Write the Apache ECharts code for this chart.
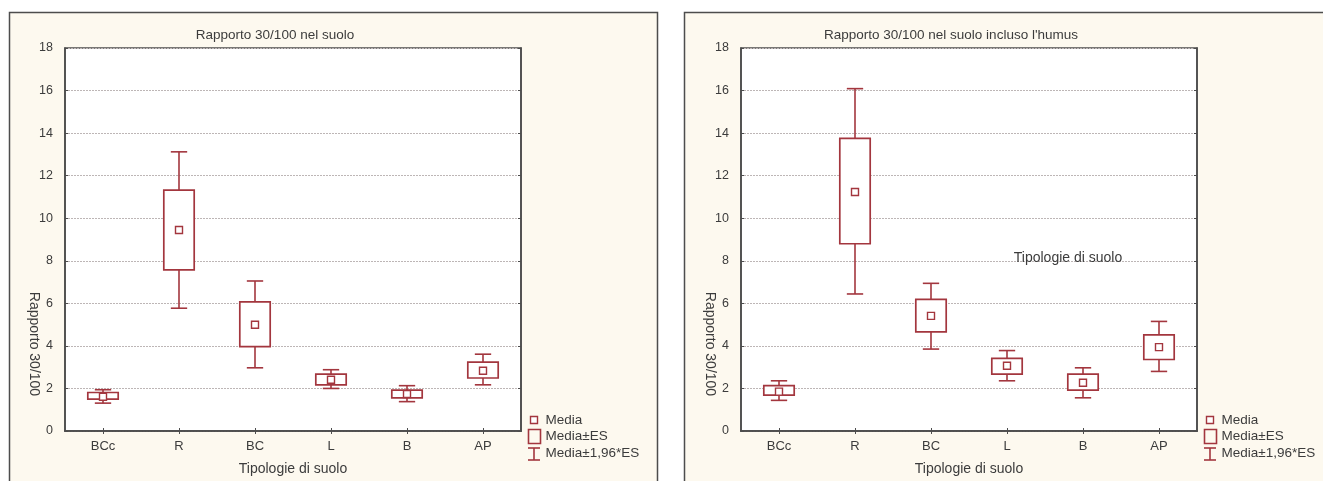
<!DOCTYPE html>
<html>
<head>
<meta charset="utf-8">
<script src="https://cdn.jsdelivr.net/npm/echarts@6/dist/echarts.min.js"></script>
<style>html,body{margin:0;padding:0;background:#fff;}#c{width:1323px;height:481px;}</style>
</head>
<body>
<div id="c"></div>
<script>
// ---- data ----
const categories = ['BCc', 'R', 'BC', 'L', 'B', 'AP'];
const yTickValues = [0, 2, 4, 6, 8, 10, 12, 14, 16, 18];

// Left: "Rapporto 30/100 nel suolo"
const mean1   = [1.61, 9.45, 4.99, 2.41, 1.74, 2.83];
const esLow1  = [1.50, 7.57, 3.97, 2.17, 1.56, 2.49];
const esHigh1 = [1.81, 11.32, 6.07, 2.67, 1.92, 3.24];
const ciLow1  = [1.31, 5.77, 2.97, 2.00, 1.38, 2.17];
const ciHigh1 = [1.94, 13.12, 7.05, 2.88, 2.13, 3.61];

// Right: "Rapporto 30/100 nel suolo incluso l'humus"
const mean2   = [1.85, 11.23, 5.41, 3.07, 2.27, 3.94];
const esLow2  = [1.69, 8.80, 4.66, 2.67, 1.92, 3.36];
const esHigh2 = [2.13, 13.75, 6.19, 3.41, 2.67, 4.52];
const ciLow2  = [1.44, 6.44, 3.85, 2.36, 1.56, 2.80];
const ciHigh2 = [2.36, 16.09, 6.94, 3.78, 2.97, 5.15];

const titles = ['Rapporto 30/100 nel suolo', "Rapporto 30/100 nel suolo incluso l'humus"];
const xName = 'Tipologie di suolo';
const yName = 'Rapporto 30/100';
const legendNames = ['Media', 'Media±ES', 'Media±1,96*ES'];

// ---- style ----
const RED = '#A3363E';
const TXT = '#3c3c3c';
const FONT = '"Liberation Sans", Arial, sans-serif';
const BG = '#FDF9EF';
const FRAME = '#4d4d4d';

const chart = echarts.init(document.getElementById('c'), null, {renderer: 'canvas'});

const gridLefts = [65, 741];
const offsets = [0, 676];

function whiskerRender(params, api) {
  const i = api.value(0);
  const lo = api.coord([i, api.value(1)]);
  const hi = api.coord([i, api.value(2)]);
  const cw = api.size([1, 0])[0] * 0.215;
  const st = {stroke: RED, lineWidth: 1.6};
  return {type: 'group', children: [
    {type: 'line', shape: {x1: lo[0], y1: lo[1], x2: hi[0], y2: hi[1]}, style: st},
    {type: 'line', shape: {x1: lo[0] - cw / 2, y1: lo[1], x2: lo[0] + cw / 2, y2: lo[1]}, style: st},
    {type: 'line', shape: {x1: hi[0] - cw / 2, y1: hi[1], x2: hi[0] + cw / 2, y2: hi[1]}, style: st}
  ]};
}
function boxRender(params, api) {
  const i = api.value(0);
  const lo = api.coord([i, api.value(1)]);
  const hi = api.coord([i, api.value(2)]);
  const bw = api.size([1, 0])[0] * 0.4;
  return {type: 'rect', shape: {x: lo[0] - bw / 2, y: hi[1], width: bw, height: lo[1] - hi[1]},
    style: {fill: '#fff', stroke: RED, lineWidth: 1.7}};
}

const sets = [
  {mean: mean1, esLow: esLow1, esHigh: esHigh1, ciLow: ciLow1, ciHigh: ciHigh1},
  {mean: mean2, esLow: esLow2, esHigh: esHigh2, ciLow: ciLow2, ciHigh: ciHigh2}
];

const grids = [], xAxes = [], yAxes = [], series = [], titleOpts = [];
const graphics = [];

sets.forEach((s, k) => {
  grids.push({left: gridLefts[k], top: 48, width: 456, height: 383, show: true,
    backgroundColor: '#fff', borderColor: FRAME, borderWidth: 1.6, containLabel: false});
  // bottom category axis
  xAxes.push({gridIndex: k, type: 'category', data: categories, position: 'bottom',
    boundaryGap: true,
    axisLine: {show: true, lineStyle: {color: FRAME, width: 1.6}},
    axisTick: {show: true, inside: true, length: 3, alignWithLabel: true, lineStyle: {color: FRAME}},
    axisLabel: {color: TXT, fontSize: 13, fontFamily: FONT, margin: 9},
    splitLine: {show: false},
    name: xName, nameLocation: 'middle', nameGap: 31,
    nameTextStyle: {color: TXT, fontSize: 14, fontFamily: FONT}});
  // top mirror axis (ticks only)
  xAxes.push({gridIndex: k, type: 'category', data: categories, position: 'top',
    boundaryGap: true,
    axisLine: {show: true, lineStyle: {color: FRAME, width: 1.6}},
    axisTick: {show: true, inside: true, length: 3, alignWithLabel: true, lineStyle: {color: FRAME}},
    axisLabel: {show: false}, splitLine: {show: false}});
  yAxes.push({gridIndex: k, type: 'value', min: yTickValues[0], max: yTickValues[yTickValues.length - 1],
    interval: yTickValues[1] - yTickValues[0], position: 'left',
    axisLine: {show: true, lineStyle: {color: FRAME, width: 1.6}},
    axisTick: {show: true, inside: true, length: 3, lineStyle: {color: FRAME}},
    axisLabel: {color: TXT, fontSize: 12.5, fontFamily: FONT, margin: 12},
    splitLine: {show: true, lineStyle: {color: '#bdb6b6', type: [2, 1], width: 1}}});
  yAxes.push({gridIndex: k, type: 'value', min: yTickValues[0], max: yTickValues[yTickValues.length - 1],
    interval: yTickValues[1] - yTickValues[0], position: 'right',
    axisLine: {show: true, lineStyle: {color: FRAME, width: 1.6}},
    axisTick: {show: true, inside: true, length: 3, lineStyle: {color: FRAME}},
    axisLabel: {show: false}, splitLine: {show: false}});

  const xi = k * 2, yi = k * 2;
  series.push({type: 'custom', name: legendNames[2], xAxisIndex: xi, yAxisIndex: yi,
    renderItem: whiskerRender, encode: {x: 0, y: [1, 2]}, z: 2,
    data: categories.map((c, i) => [i, s.ciLow[i], s.ciHigh[i]])});
  series.push({type: 'custom', name: legendNames[1], xAxisIndex: xi, yAxisIndex: yi,
    renderItem: boxRender, encode: {x: 0, y: [1, 2]}, z: 3,
    data: categories.map((c, i) => [i, s.esLow[i], s.esHigh[i]])});
  series.push({type: 'scatter', name: legendNames[0], xAxisIndex: xi, yAxisIndex: yi,
    symbol: 'rect', symbolSize: 7, z: 4,
    itemStyle: {color: '#fff', borderColor: RED, borderWidth: 1.4, opacity: 1},
    data: categories.map((c, i) => [i, s.mean[i]])});

  titleOpts.push({text: titles[k], left: 270 + offsets[k], top: 23, textAlign: 'center',
    textStyle: {color: TXT, fontSize: 13.5, fontWeight: 'normal', fontFamily: FONT}});

  const o = offsets[k];
  // y-axis title
  graphics.push({type: 'text', x: 34 + o, y: 344, rotation: -Math.PI / 2, z: 100,
    style: {text: yName, fill: TXT, font: '14px ' + FONT, align: 'center', verticalAlign: 'middle'}});
  // legend
  graphics.push({type: 'rect', shape: {x: 530.5 + o, y: 416.5, width: 7, height: 7}, z: 100,
    style: {fill: '#fff', stroke: RED, lineWidth: 1.4}});
  graphics.push({type: 'rect', shape: {x: 528.5 + o, y: 429.5, width: 12, height: 14}, z: 100,
    style: {fill: 'none', stroke: RED, lineWidth: 1.6}});
  graphics.push({type: 'polyline', shape: {points: [[528 + o, 448], [540 + o, 448]]}, z: 100, style: {stroke: RED, lineWidth: 1.6}});
  graphics.push({type: 'polyline', shape: {points: [[528 + o, 460], [540 + o, 460]]}, z: 100, style: {stroke: RED, lineWidth: 1.6}});
  graphics.push({type: 'polyline', shape: {points: [[534 + o, 448], [534 + o, 460]]}, z: 100, style: {stroke: RED, lineWidth: 1.6}});
  [420, 436.5, 453.5].forEach((yy, j) => {
    graphics.push({type: 'text', x: 545.5 + o, y: yy, z: 100,
      style: {text: legendNames[j], fill: TXT, font: '13.5px ' + FONT, verticalAlign: 'middle', align: 'left'}});
  });
});

// panel backgrounds (behind everything)
graphics.unshift({type: 'rect', shape: {x: 684.5, y: 12.5, width: 700, height: 520}, z: -10,
  style: {fill: BG, stroke: FRAME, lineWidth: 1.5}});
graphics.unshift({type: 'rect', shape: {x: 9.5, y: 12.5, width: 648, height: 520}, z: -10,
  style: {fill: BG, stroke: FRAME, lineWidth: 1.5}});
// stray label inside right plot (as in the original)
graphics.push({type: 'text', x: 1068, y: 258, z: 100,
  style: {text: xName, fill: TXT, font: '14px ' + FONT, align: 'center', verticalAlign: 'middle'}});

chart.setOption({
  animation: false,
  backgroundColor: '#fff',
  title: titleOpts,
  grid: grids,
  xAxis: xAxes,
  yAxis: yAxes,
  series: series,
  graphic: {elements: graphics}
});
</script>
</body>
</html>
